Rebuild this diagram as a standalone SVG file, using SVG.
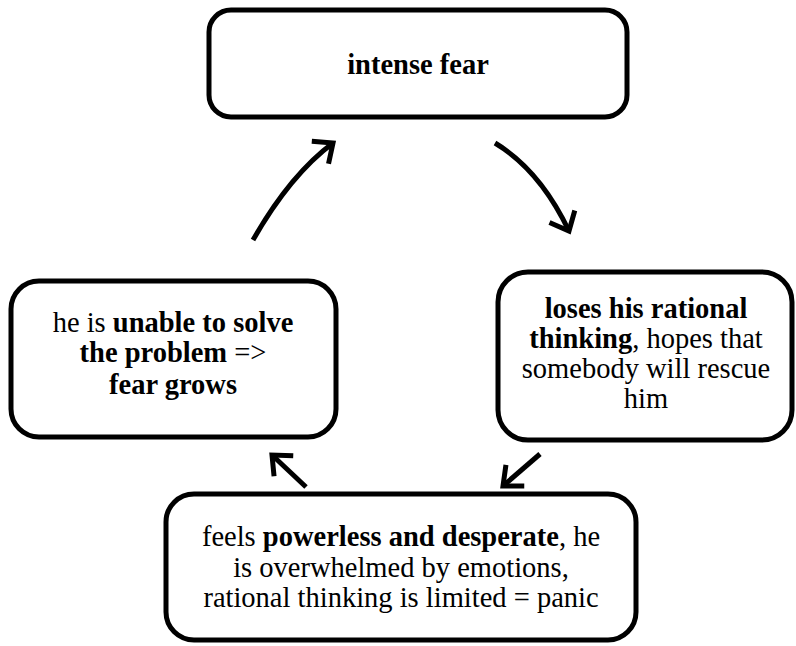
<svg xmlns="http://www.w3.org/2000/svg" width="796" height="646" viewBox="0 0 796 646">
  <style>
    .box { fill: #ffffff; stroke: #000000; stroke-width: 5; }
    .lbl { font-family: 'Liberation Serif', 'Times New Roman', serif; font-size: 28.5px; fill: #000000; text-anchor: middle; }
    .b { font-weight: bold; }
    .conn { fill: none; stroke: #000000; stroke-width: 5; stroke-linecap: butt; }
  </style>
  <defs>
    <marker id="chev" markerUnits="userSpaceOnUse" markerWidth="40" markerHeight="40" refX="20" refY="20" orient="auto" overflow="visible">
      <path d="M4,6 L20,20 L4,34" fill="none" stroke="#000000" stroke-width="5" stroke-linecap="butt" stroke-linejoin="miter"/>
    </marker>
  </defs>
  <rect width="796" height="646" fill="#ffffff"/>

  <g id="node-intense-fear">
    <rect class="box" x="209" y="10" width="418" height="107" rx="22"/>
    <text class="lbl b" x="418" y="74">intense fear</text>
  </g>

  <g id="node-loses-thinking">
    <rect class="box" x="498" y="272" width="294" height="168" rx="30"/>
    <text class="lbl" x="646" y="318"><tspan class="b">loses his rational</tspan></text>
    <text class="lbl" x="646" y="348"><tspan class="b">thinking</tspan>, hopes that</text>
    <text class="lbl" x="646" y="378">somebody will rescue</text>
    <text class="lbl" x="646" y="408">him</text>
  </g>

  <g id="node-powerless">
    <rect class="box" x="166" y="494" width="470" height="146" rx="28"/>
    <text class="lbl" x="401" y="546">feels <tspan class="b">powerless and desperate</tspan>, he</text>
    <text class="lbl" x="401" y="577">is overwhelmed by emotions,</text>
    <text class="lbl" x="401" y="607">rational thinking is limited = panic</text>
  </g>

  <g id="node-unable">
    <rect class="box" x="11" y="281" width="325" height="156" rx="28"/>
    <text class="lbl" x="173" y="332">he is <tspan class="b">unable to solve</tspan></text>
    <text class="lbl b" x="173" y="362">the problem <tspan font-weight="normal">=&gt;</tspan></text>
    <text class="lbl b" x="173" y="394">fear grows</text>
  </g>

  <g id="connectors">
    <path class="conn" d="M253,240 Q290,175 333,143" marker-end="url(#chev)"/>
    <path class="conn" d="M495,143 Q540,170 569,231" marker-end="url(#chev)"/>
    <path class="conn" d="M540,454 L503,486" marker-end="url(#chev)"/>
    <path class="conn" d="M306,487 L272,455" marker-end="url(#chev)"/>
  </g>
</svg>
